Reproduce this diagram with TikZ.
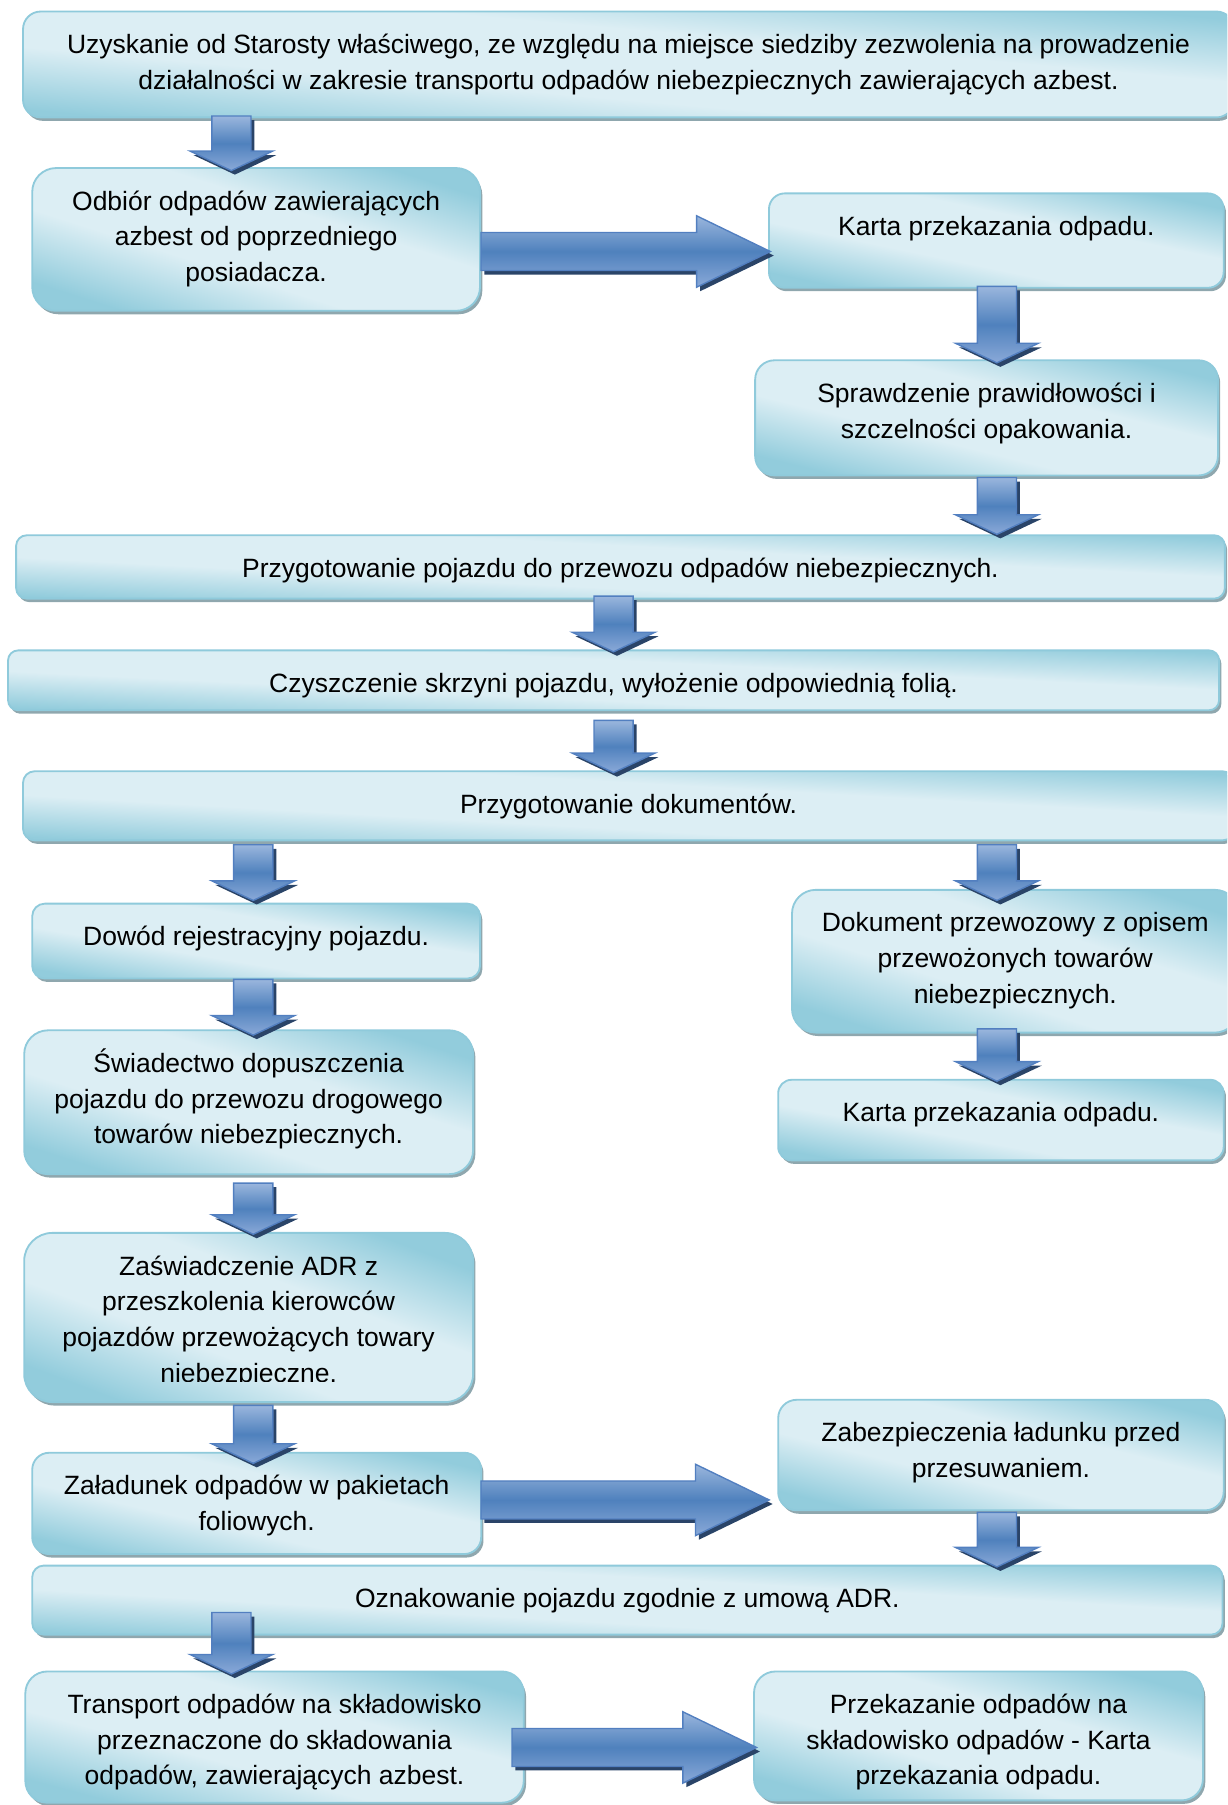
\documentclass[tikz,border=0pt]{standalone}
\usepackage{fontspec}
\setmainfont{Liberation Sans}
\usetikzlibrary{calc,shadows}

\definecolor{boxdark}{HTML}{92CCDC}
\definecolor{boxlight}{HTML}{DCEEF4}
\definecolor{boxline}{HTML}{8FCADB}
\definecolor{boxshade}{HTML}{8FA7AE}
\definecolor{arrtop}{HTML}{9AB6DD}
\definecolor{arrmid}{HTML}{4F81BD}
\definecolor{arrbot}{HTML}{8AA9D8}
\definecolor{arrline}{HTML}{527FC0}
\definecolor{arrshade}{HTML}{2A4468}

\pgfdeclareverticalshading{boxfill}{100bp}{color(0bp)=(boxdark); color(25bp)=(boxdark);
  color(41bp)=(boxlight); color(59bp)=(boxlight); color(75bp)=(boxdark); color(100bp)=(boxdark)}

\tikzset{
  box/.style={draw=boxline, line width=1.6pt, inner sep=0pt, shading=boxfill,
    drop shadow={shadow xshift=2pt, shadow yshift=-3pt, fill=boxshade, opacity=1}},
  txt/.style={anchor=north, align=center, inner sep=0pt, font=\fontsize{23}{31}\selectfont},
  blockarr/.style={draw=arrline, line width=1.2pt,
    top color=arrtop, bottom color=arrbot, middle color=arrmid,
    drop shadow={shadow xshift=3pt, shadow yshift=-3.5pt, fill=arrshade, opacity=1}}
}

% box: [text clip] name, x1, y1, x2, y2, text
\newcommand\flowbox[7][0]{%
  \pgfmathsetmacro\boxw{#5-#3}
  \pgfmathsetmacro\boxh{#6-#4}
  \pgfmathsetmacro\boxr{min(\boxw,\boxh)/6}
  \pgfmathsetmacro\boxa{-atan(\boxh/\boxw)}
  \node[box, rounded corners=\boxr pt, minimum width=\boxw pt, minimum height=\boxh pt,
    shading angle=\boxa] (#2) at ({(#3+#5)/2},{(#4+#6)/2}) {};
  \begin{scope}
    \clip (#3,#4) rectangle (#5,#6-#1);
    \node[txt] (#2-t) at ([yshift=-15.5pt]#2.north) {\strut #7};
  \end{scope}}

% block arrow: start, end, shaft half width, head half width, head length
\newcommand\blockarrow[5]{%
  \coordinate (arrH) at ($(#2)!#5!(#1)$);
  \path[blockarr] ($(#1)!#3!90:(#2)$) -- ($(arrH)!#3!-90:(#1)$) -- ($(arrH)!#4!-90:(#1)$)
    -- (#2) -- ($(arrH)!#4!90:(#1)$) -- ($(arrH)!#3!90:(#1)$) -- ($(#1)!#3!-90:(#2)$) -- cycle;}
\newcommand\blockdown[5]{%
  \coordinate (arrS) at ($(#1.south -| #3)+(0,#4)$);
  \coordinate (arrE) at ($(#2.north -| #3)+(0,#5)$);
  \blockarrow{arrS}{arrE}{17pt}{36pt}{17pt}}
\newcommand\blockright[5]{%
  \coordinate (arrS) at ($(#1.east)+(#4,#3)$);
  \coordinate (arrE) at ($(arrS -| #2.west)+(#5,0)$);
  \blockarrow{arrS}{arrE}{16.5pt}{31pt}{64pt}}

\begin{document}
\begin{tikzpicture}[x=1pt, y=-1pt]
  \useasboundingbox (0,0) rectangle (1066,1568);
  \clip (0,0) rectangle (1066,1568);
  \coordinate (colA) at (201,0);
  \coordinate (colB) at (220,0);
  \coordinate (colC) at (866,0);
  \coordinate (colD) at (533,0);

  \flowbox{zezw}{20}{10}{1072}{102}{Uzyskanie od Starosty właściwego, ze względu na miejsce siedziby zezwolenia na prowadzenie\\działalności w zakresie transportu odpadów niebezpiecznych zawierających azbest.}
  \flowbox{odbior}{28}{146}{417}{270}{Odbiór odpadów zawierających\\azbest od poprzedniego\\posiadacza.}
  \flowbox{karta1}{668}{168}{1063}{250}{Karta przekazania odpadu.}
  \flowbox{sprawdz}{656}{313}{1058}{413}{Sprawdzenie prawidłowości i\\szczelności opakowania.}
  \flowbox{przyg}{14}{465}{1064}{520}{Przygotowanie pojazdu do przewozu odpadów niebezpiecznych.}
  \flowbox{czysz}{7}{565}{1059}{617}{Czyszczenie skrzyni pojazdu, wyłożenie odpowiednią folią.}
  \flowbox{dokumenty}{20}{670}{1072}{730}{Przygotowanie dokumentów.}
  \flowbox{dowod}{28}{785}{417}{850}{Dowód rejestracyjny pojazdu.}
  \flowbox{dokument}{688}{773}{1076}{897}{Dokument przewozowy z opisem\\przewożonych towarów\\niebezpiecznych.}
  \flowbox{swiad}{21}{895}{411}{1020}{Świadectwo dopuszczenia\\pojazdu do przewozu drogowego\\towarów niebezpiecznych.}
  \flowbox{karta2}{676}{938}{1063}{1008}{Karta przekazania odpadu.}
  \flowbox[18]{zasw}{21}{1071}{411}{1218}{Zaświadczenie ADR z\\przeszkolenia kierowców\\pojazdów przewożących towary\\niebezpieczne.}
  \flowbox{zalad}{28}{1262}{418}{1350}{Załadunek odpadów w pakietach\\foliowych.}
  \flowbox{zabezp}{676}{1216}{1063}{1312}{Zabezpieczenia ładunku przed\\przesuwaniem.}
  \flowbox{oznak}{28}{1360}{1062}{1420}{Oznakowanie pojazdu zgodnie z umową ADR.}
  \flowbox{transport}{22}{1452}{455}{1566}{Transport odpadów na składowisko\\przeznaczone do składowania\\odpadów, zawierających azbest.}
  \flowbox{przekaz}{655}{1452}{1045}{1564}{Przekazanie odpadów na\\składowisko odpadów - Karta\\przekazania odpadu.}

  \blockdown{zezw}{odbior}{colA}{-2}{3}
  \blockdown{karta1}{sprawdz}{colC}{-2}{3}
  \blockdown{sprawdz}{przyg}{colC}{1}{0}
  \blockdown{przyg}{czysz}{colD}{-3}{2}
  \blockdown{czysz}{dokumenty}{colD}{8}{2}
  \blockdown{dokumenty}{dowod}{colB}{3}{-2}
  \blockdown{dokumenty}{dokument}{colC}{3}{10}
  \blockdown{dowod}{swiad}{colB}{0}{5}
  \blockdown{dokument}{karta2}{colC}{-4}{2}
  \blockdown{swiad}{zasw}{colB}{7}{2}
  \blockdown{zasw}{zalad}{colB}{2}{10}
  \blockdown{zabezp}{oznak}{colC}{1}{2}
  \blockdown{oznak}{transport}{colA}{-20}{3}
  \blockright{odbior}{karta1}{10.5}{0}{2}
  \blockright{zalad}{zabezp}{-3}{-1}{-7}
  \blockright{transport}{przekaz}{9}{-11}{3}
\end{tikzpicture}
\end{document}
